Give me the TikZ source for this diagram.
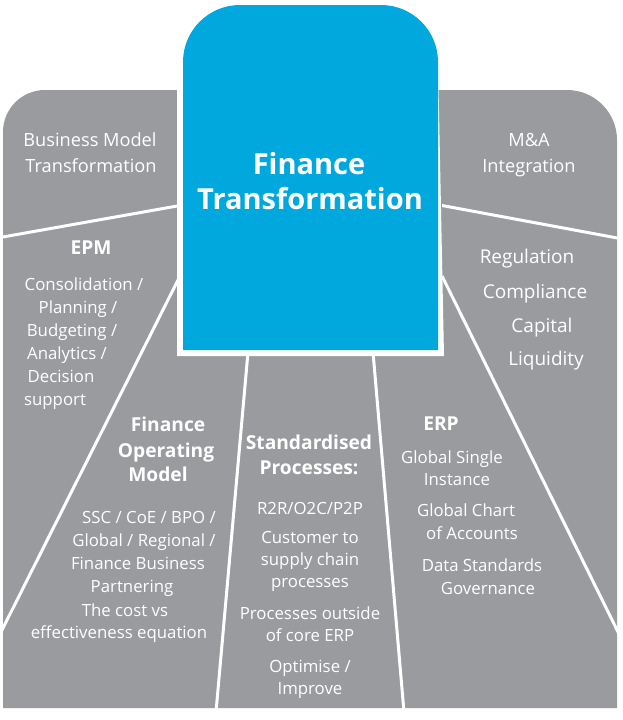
\documentclass[tikz,border=0pt]{standalone}
\usepackage{fontspec}
\setmainfont{Open Sans}
\definecolor{ftgray}{RGB}{154,155,159}
\definecolor{ftblue}{RGB}{0,168,222}
\tikzset{
  divider/.style={white, line width=3pt},
  lbl/.style={text=white, inner sep=0pt, yshift=-4pt, text height=0.72em, text depth=0.2em, font=\fontsize{16.8}{16.8}\selectfont},
  side/.style={lbl, font=\fontsize{18.2}{18.2}\selectfont},
  rlist/.style={lbl, font=\fontsize{19}{19}\selectfont},
  head/.style={lbl, font=\fontsize{19.2}{19.2}\selectfont\bfseries},
  title/.style={lbl, font=\fontsize{29}{29}\selectfont\bfseries},
}
\begin{document}
\begin{tikzpicture}[x=1pt, y=-1pt]
\useasboundingbox (0,0) rectangle (622,720);
% gray base shape
\fill[ftgray] (3,708) -- (3,132) arc[start angle=180, end angle=270, radius=42] -- (567,90)
  arc[start angle=270, end angle=360, radius=50] -- (617,708) -- cycle;
% dividers
\draw[divider] (0,237.5) -- (180,205.5);
\draw[divider] (180,276) -- (1,632);
\draw[divider] (248,352) -- (216,712);
\draw[divider] (373,352) -- (404,712);
\draw[divider] (442,276) -- (620,636);
\draw[divider] (442,205.5) -- (620,238.5);
% central box with white border
\fill[white] (177,356) -- (177,62) arc[start angle=180, end angle=270, radius=61] -- (377,1)
  arc[start angle=270, end angle=360, radius=61] -- (444,356) -- cycle;
\fill[ftblue] (183,350) -- (183,62) arc[start angle=180, end angle=270, radius=57] -- (381,5)
  arc[start angle=270, end angle=360, radius=57] -- (438,350) -- cycle;
% title
\node[title] (t1) at (309,168) {Finance};
\node[title] (t2) at (310,203) {Transformation};
% top side labels
\node[side] (bm1) at (90,140) {Business Model};
\node[side] (bm2) at (91,166) {Transformation};
\node[side] (ma1) at (529,140) {M\&A};
\node[side] (ma2) at (529,166) {Integration};
% EPM
\node[head] (epm) at (91,248) {EPM};
\node[lbl] (e1) at (84,284) {Consolidation /};
\node[lbl] (e2) at (78,307) {Planning /};
\node[lbl] (e3) at (72,330) {Budgeting /};
\node[lbl] (e4) at (67,353) {Analytics /};
\node[lbl] (e5) at (61,376) {Decision};
\node[lbl] (e6) at (55,399) {support};
% Right list
\node[rlist] (r1) at (527,257) {Regulation};
\node[rlist] (r2) at (535,292) {Compliance};
\node[rlist] (r3) at (542,326) {Capital};
\node[rlist] (r4) at (546,359) {Liquidity};
% Finance Operating Model
\node[head] (f1) at (168,425) {Finance};
\node[head] (f2) at (166,451) {Operating};
\node[head] (f3) at (158,475) {Model};
\node[lbl] (f4) at (149,517) {SSC / CoE / BPO /};
\node[lbl] (f5) at (144,540) {Global / Regional /};
\node[lbl] (f6) at (138,563) {Finance Business};
\node[lbl] (f7) at (132,586) {Partnering};
\node[lbl] (f8) at (125,610) {The cost vs};
\node[lbl] (f9) at (119,632) {effectiveness equation};
% Standardised Processes
\node[head] (s1) at (309,443) {Standardised};
\node[head] (s2) at (309,468) {Processes:};
\node[lbl] (s3) at (310,508) {R2R/O2C/P2P};
\node[lbl] (s4) at (310,537) {Customer to};
\node[lbl] (s5) at (310,559) {supply chain};
\node[lbl] (s6) at (310,581) {processes};
\node[lbl] (s7) at (310,613) {Processes outside};
\node[lbl] (s8) at (310,635) {of core ERP};
\node[lbl] (s9) at (310,666) {Optimise /};
\node[lbl] (s10) at (310,688) {Improve};
% ERP
\node[head] (erp) at (441,424) {ERP};
\node[lbl] (p1) at (452,457) {Global Single};
\node[lbl] (p2) at (457,479) {Instance};
\node[lbl] (p3) at (466,510) {Global Chart};
\node[lbl] (p4) at (472,533) {of Accounts};
\node[lbl] (p5) at (482,565) {Data Standards};
\node[lbl] (p6) at (488,588) {Governance};
\end{tikzpicture}
\end{document}
